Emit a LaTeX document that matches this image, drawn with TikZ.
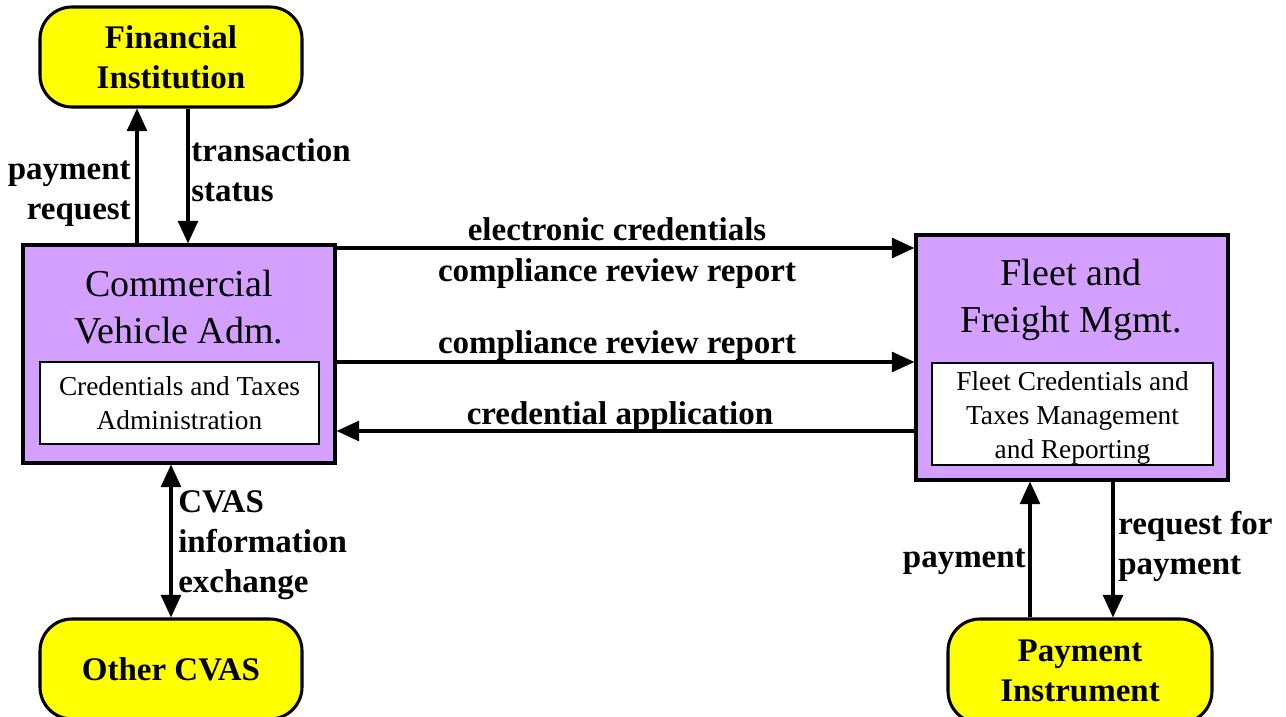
\documentclass[tikz,border=0pt]{standalone}
\usepackage{fontspec}
\setmainfont{Liberation Serif}
\usetikzlibrary{arrows.meta}
\definecolor{lav}{RGB}{212,160,255}
\definecolor{yel}{RGB}{255,255,0}
\tikzset{
  ext/.style={draw, line width=2.3pt, fill=yel, rounded corners=24pt, align=center,
    font=\bfseries\fontsize{24.75pt}{30pt}\selectfont, inner sep=0pt},
  sysbox/.style={draw, line width=2.3pt, fill=lav, inner sep=0pt},
  systitle/.style={align=center, font=\fontsize{28.5pt}{35pt}\selectfont, inner sep=0pt},
  subbox/.style={draw, line width=2.1pt, fill=white, align=center, inner sep=0pt,
    font=\fontsize{20.5pt}{25.5pt}\selectfont},
  lbl/.style={font=\bfseries\fontsize{24.75pt}{30pt}\selectfont, inner sep=0pt},
  arr/.style={line width=2.3pt, -{Triangle[length=17pt,width=15pt]}},
  darr/.style={line width=2.3pt, {Triangle[length=17pt,width=15pt]}-{Triangle[length=17pt,width=15pt]}}
}
\begin{document}
\begin{tikzpicture}[x=0.75pt,y=-0.75pt]
\useasboundingbox (0,0) rectangle (1286,717);
\clip (0,0) rectangle (1286,717);
% external entities
\node[ext, minimum width=262*0.75pt, minimum height=100*0.75pt] (fi) at (171,57) {Financial\\Institution};
\node[ext, minimum width=262*0.75pt, minimum height=100*0.75pt] (oc) at (171,669) {Other CVAS};
\node[ext, minimum width=264*0.75pt, minimum height=104*0.75pt] (pi) at (1080,671) {Payment\\Instrument};
% systems
\node[sysbox, minimum width=312*0.75pt, minimum height=218*0.75pt] (cva) at (179,354) {};
\node[systitle] (cvat) at (179,307) {Commercial\\Vehicle Adm.};
\node[subbox, minimum width=279*0.75pt, minimum height=82*0.75pt] (cvai) at (179.5,403) {Credentials and Taxes\\Administration};
\node[sysbox, minimum width=312*0.75pt, minimum height=245*0.75pt] (ffm) at (1072,357.5) {};
\node[systitle] (ffmt) at (1071,300) {Fleet and\\Freight Mgmt.};
\node[subbox, minimum width=281*0.75pt, minimum height=102*0.75pt] (ffmi) at (1072.5,414) {};
\node[align=center, inner sep=0pt, font=\fontsize{20.5pt}{25.5pt}\selectfont] (ffmit) at (1072.5,418) {Fleet Credentials and\\Taxes Management\\and Reporting};
% helper coordinates
\coordinate (xpr) at (137,0);
\coordinate (xts) at (188,0);
\coordinate (xcv) at (171,0);
\coordinate (xpy) at (1030,0);
\coordinate (xrp) at (1113,0);
\coordinate (y1) at (0,248);
\coordinate (y2) at (0,362);
\coordinate (y3) at (0,431);
% connectors
\draw[arr] (cva.north -| xpr) -- (fi.south -| xpr);
\draw[arr] (fi.south -| xts) -- (cva.north -| xts);
\draw[arr] (cva.east |- y1) -- (ffm.west |- y1);
\draw[arr] (cva.east |- y2) -- (ffm.west |- y2);
\draw[arr] (ffm.west |- y3) -- (cva.east |- y3);
\draw[darr] (cva.south -| xcv) -- (oc.north -| xcv);
\draw[arr] (pi.north -| xpy) -- (ffm.south -| xpy);
\draw[arr] (ffm.south -| xrp) -- (pi.north -| xrp);
% labels
\node[lbl, anchor=east, align=right] (lpr) at (131,194) {payment\\request};
\node[lbl, anchor=west, align=left] (lts) at (191,170) {transaction\\status};
\node[lbl] (lec) at (617,229) {electronic credentials};
\node[lbl] (lcr1) at (617,274) {compliance review report};
\node[lbl] (lcr2) at (617,346) {compliance review report};
\node[lbl] (lca) at (620,417) {credential application};
\node[lbl, anchor=west, align=left] (lcv) at (178,545) {CVAS\\information\\exchange};
\node[lbl, anchor=east] (lpy) at (1026,562) {payment};
\node[lbl, anchor=west, align=left] (lrp) at (1118,546) {request for\\payment};
\end{tikzpicture}
\end{document}
